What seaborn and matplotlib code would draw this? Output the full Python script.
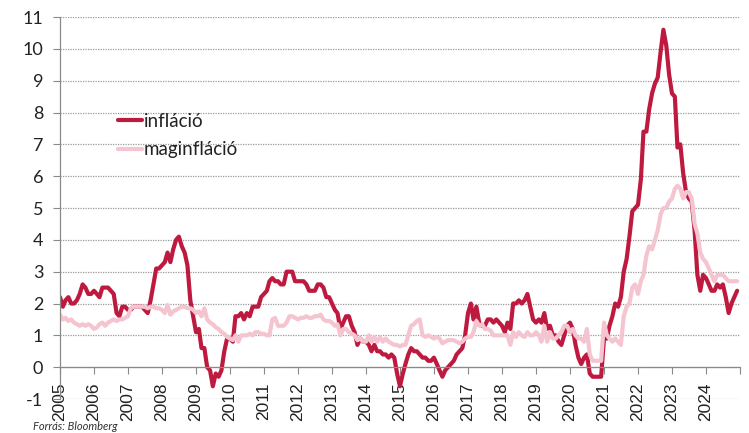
import matplotlib
matplotlib.use("Agg")
import matplotlib.pyplot as plt
import pandas as pd
import seaborn as sns

# ---- data (monthly, Jan 2005 - Dec 2024) ----
start_month = "2005-01-01"
end_month = "2024-12-01"
year_ticks = list(range(2005, 2026))
year_labels = [str(y) for y in range(2005, 2025)]
y_ticks = list(range(-1, 12))

inflacio = [
    2.2, 1.9, 2.1, 2.2, 2.0, 2.0, 2.1, 2.3, 2.6, 2.5, 2.3, 2.3,   # 2005
    2.4, 2.3, 2.2, 2.5, 2.5, 2.5, 2.4, 2.3, 1.7, 1.6, 1.9, 1.9,   # 2006
    1.8, 1.8, 1.9, 1.9, 1.9, 1.9, 1.8, 1.7, 2.1, 2.6, 3.1, 3.1,   # 2007
    3.2, 3.3, 3.6, 3.3, 3.7, 4.0, 4.1, 3.8, 3.6, 3.2, 2.1, 1.6,   # 2008
    1.1, 1.2, 0.6, 0.6, 0.0, -0.1, -0.6, -0.2, -0.3, -0.1, 0.5, 0.9,  # 2009
    0.9, 0.8, 1.6, 1.6, 1.7, 1.5, 1.7, 1.6, 1.9, 1.9, 1.9, 2.2,   # 2010
    2.3, 2.4, 2.7, 2.8, 2.7, 2.7, 2.6, 2.6, 3.0, 3.0, 3.0, 2.7,   # 2011
    2.7, 2.7, 2.7, 2.6, 2.4, 2.4, 2.4, 2.6, 2.6, 2.5, 2.2, 2.2,   # 2012
    2.0, 1.8, 1.7, 1.2, 1.4, 1.6, 1.6, 1.3, 1.1, 0.7, 0.9, 0.8,   # 2013
    0.8, 0.7, 0.5, 0.7, 0.5, 0.5, 0.4, 0.4, 0.3, 0.4, 0.3, -0.2,  # 2014
    -0.6, -0.2, 0.1, 0.4, 0.6, 0.5, 0.5, 0.4, 0.3, 0.3, 0.2, 0.2, # 2015
    0.3, 0.1, -0.1, -0.3, -0.1, 0.0, 0.1, 0.2, 0.4, 0.5, 0.6, 1.0, # 2016
    1.7, 2.0, 1.5, 1.9, 1.4, 1.3, 1.3, 1.5, 1.5, 1.4, 1.5, 1.4,   # 2017
    1.3, 1.1, 1.4, 1.2, 2.0, 2.0, 2.1, 2.0, 2.1, 2.3, 1.9, 1.5,   # 2018
    1.4, 1.5, 1.4, 1.7, 1.2, 1.3, 1.0, 1.0, 0.8, 0.7, 1.0, 1.3,   # 2019
    1.4, 1.2, 0.7, 0.3, 0.1, 0.3, 0.4, -0.2, -0.3, -0.3, -0.3, -0.3,  # 2020
    0.9, 0.9, 1.3, 1.6, 2.0, 1.9, 2.2, 3.0, 3.4, 4.1, 4.9, 5.0,   # 2021
    5.1, 5.9, 7.4, 7.4, 8.1, 8.6, 8.9, 9.1, 9.9, 10.6, 10.1, 9.2, # 2022
    8.6, 8.5, 6.9, 7.0, 6.1, 5.5, 5.3, 5.2, 4.3, 2.9, 2.4, 2.9,   # 2023
    2.8, 2.6, 2.4, 2.4, 2.6, 2.5, 2.6, 2.2, 1.7, 2.0, 2.2, 2.4,   # 2024
]

maginflacio = [
    1.65, 1.5, 1.55, 1.45, 1.5, 1.4, 1.35, 1.3, 1.35, 1.3, 1.35, 1.3,   # 2005
    1.2, 1.25, 1.35, 1.4, 1.3, 1.4, 1.45, 1.5, 1.45, 1.5, 1.5, 1.55,    # 2006
    1.6, 1.85, 1.9, 1.9, 1.9, 1.9, 1.9, 1.85, 1.9, 1.9, 1.85, 1.85,     # 2007
    1.8, 1.7, 1.95, 1.65, 1.75, 1.8, 1.85, 1.9, 1.9, 1.85, 1.85, 1.8,   # 2008
    1.7, 1.75, 1.6, 1.85, 1.5, 1.4, 1.35, 1.25, 1.2, 1.1, 1.05, 0.95,   # 2009
    0.9, 0.85, 1.0, 0.8, 1.0, 1.0, 1.0, 1.05, 1.0, 1.1, 1.1, 1.05,      # 2010
    1.05, 1.0, 1.0, 1.5, 1.55, 1.3, 1.3, 1.3, 1.4, 1.6, 1.6, 1.55,      # 2011
    1.5, 1.55, 1.55, 1.6, 1.55, 1.55, 1.6, 1.6, 1.65, 1.5, 1.45, 1.45,  # 2012
    1.4, 1.3, 1.35, 1.0, 1.2, 1.2, 1.1, 1.05, 1.0, 0.85, 0.9, 0.8,      # 2013
    0.8, 1.0, 0.8, 0.95, 0.8, 0.95, 0.8, 0.9, 0.8, 0.75, 0.7, 0.7,      # 2014
    0.65, 0.7, 0.7, 1.0, 1.3, 1.35, 1.45, 1.5, 1.0, 0.95, 1.0, 0.95,    # 2015
    0.9, 0.95, 0.9, 0.75, 0.8, 0.85, 0.85, 0.85, 0.8, 0.75, 0.8, 0.9,   # 2016
    0.95, 0.95, 1.1, 1.45, 1.3, 1.35, 1.2, 1.2, 1.15, 1.0, 1.0, 1.0,    # 2017
    1.0, 1.0, 1.0, 0.7, 1.1, 0.95, 1.1, 1.0, 0.95, 1.1, 1.0, 1.0,       # 2018
    1.1, 1.0, 0.8, 1.3, 0.8, 1.1, 0.9, 0.9, 1.0, 1.1, 1.3, 1.3,         # 2019
    1.1, 1.2, 1.0, 0.9, 0.9, 0.8, 1.2, 0.4, 0.2, 0.2, 0.2, 0.2,         # 2020
    1.4, 1.0, 0.9, 0.8, 0.9, 0.8, 0.7, 1.6, 1.9, 2.0, 2.5, 2.6,         # 2021
    2.3, 2.7, 2.9, 3.5, 3.8, 3.7, 4.0, 4.3, 4.8, 5.0, 5.0, 5.2,         # 2022
    5.3, 5.6, 5.7, 5.6, 5.3, 5.5, 5.5, 5.3, 4.5, 4.2, 3.6, 3.4,         # 2023
    3.3, 3.1, 2.9, 2.7, 2.9, 2.9, 2.9, 2.8, 2.7, 2.7, 2.7, 2.7,         # 2024
]

series_names = ["infláció", "maginfláció"]
colors = ["#BE1A40", "#F4C5D0"]

months = pd.date_range(start_month, end_month, freq="MS")
df = pd.DataFrame({
    "date": list(months) * 2,
    "value": inflacio + maginflacio,
    "series": [series_names[0]] * len(months) + [series_names[1]] * len(months),
})

# ---- style ----
sns.set_theme(style="white")
plt.rcParams["font.family"] = ["Lato", "DejaVu Sans"]

fig = plt.figure(figsize=(7.49, 4.33), dpi=100)
ax = fig.add_axes([0.0801, 0.0785, 0.9079, 0.8822])

sns.lineplot(data=df, x="date", y="value", hue="series",
             hue_order=series_names, palette=colors,
             linewidth=3.0, ax=ax, legend=True)

ax.set_xlabel("")
ax.set_ylabel("")

# grid
ax.yaxis.grid(True, linestyle=(0, (1, 1)), color="#9a9a9a", linewidth=0.9)
ax.xaxis.grid(False)
ax.set_axisbelow(True)

# spines
for s in ["top", "right"]:
    ax.spines[s].set_visible(False)
ax.spines["left"].set_color("#8a8a8a")
ax.spines["left"].set_linewidth(0.9)
ax.spines["bottom"].set_position(("data", 0))
ax.spines["bottom"].set_color("#8a8a8a")
ax.spines["bottom"].set_linewidth(0.9)

ax.tick_params(axis="y", which="major", direction="out", length=5, width=0.8,
               color="#8a8a8a", pad=7, left=True, labelsize=13,
               labelcolor="#222222")
ax.tick_params(axis="x", which="major", direction="out", length=5, width=0.8,
               color="#8a8a8a", pad=6, bottom=True, labelrotation=90,
               labelsize=12.5, labelcolor="#222222")

# axes limits / ticks
ax.set_ylim(-1, 11)
ax.set_xlim(pd.Timestamp("2005-01-01"), pd.Timestamp("2025-01-01"))
ax.set_yticks(y_ticks)
ax.set_yticklabels([str(v) for v in y_ticks])

xt = [pd.Timestamp(f"{y}-01-01") for y in year_ticks]
ax.set_xticks(xt)
ax.set_xticklabels(year_labels + [""])

# legend
leg = ax.legend(loc="center left", bbox_to_anchor=(0.086, 0.690),
                frameon=False, fontsize=13.5, handlelength=1.25,
                handletextpad=0.1, labelspacing=0.62, borderpad=0,
                borderaxespad=0, title=None)
for line in leg.get_lines():
    line.set_linewidth(3.0)
for t in leg.get_texts():
    t.set_color("#222222")

# source
fig.text(0.044, 0.014, "Forrás: Bloomberg", fontsize=8, style="italic",
         color="#333333", va="center", ha="left")

# finalize tick label fonts after ticks are created
fig.canvas.draw()
for lbl in ax.get_xticklabels():
    lbl.set_family(["Liberation Sans", "DejaVu Sans"])
    lbl.set_fontsize(12.5)

fig.savefig("out.png", dpi=100)
